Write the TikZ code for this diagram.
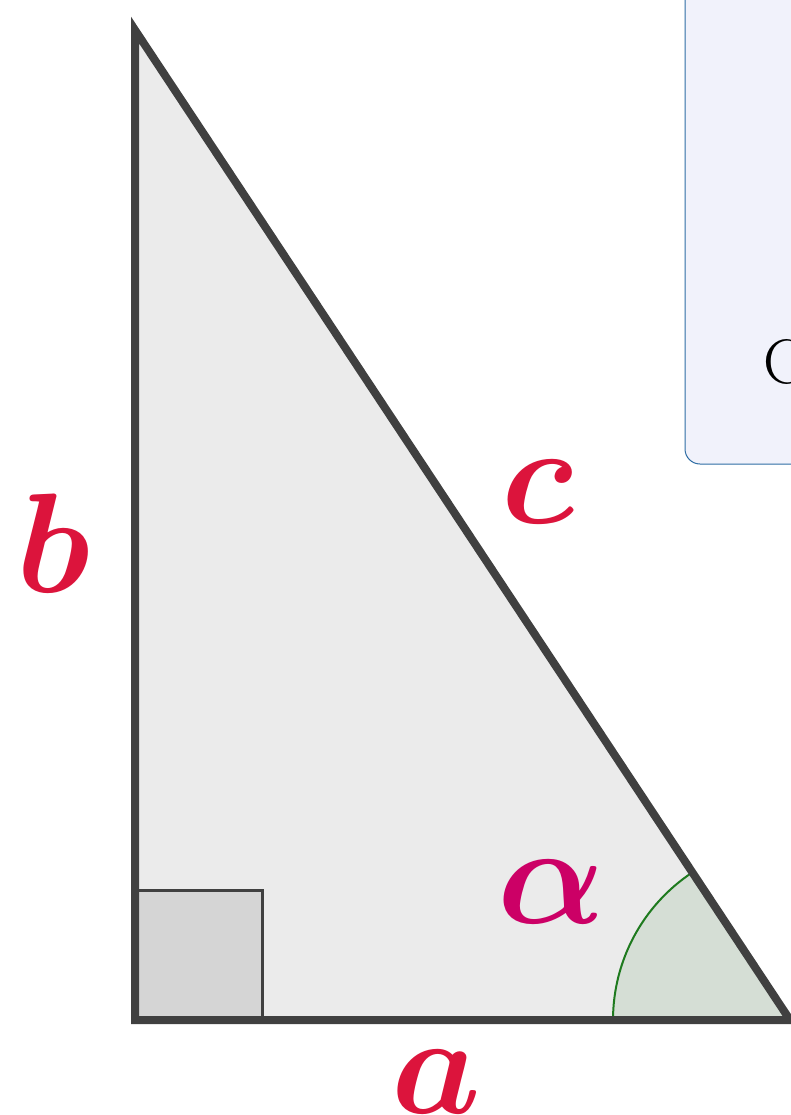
\documentclass[tikz,border=0pt]{standalone}
\usepackage{graphicx}
\usepackage{amsmath}
\begin{document}
\begin{tikzpicture}[x=1pt,y=-1pt,
  lbl/.style={inner sep=0pt, anchor=base},
  side/.style={draw=edge, line width=8pt, line join=miter}]
\definecolor{edge}{HTML}{404040}
\definecolor{tri}{HTML}{EBEBEB}
\definecolor{sq}{HTML}{D5D5D5}
\definecolor{arcfill}{HTML}{D5DED5}
\definecolor{arcline}{HTML}{1E7A1E}
\definecolor{crim}{HTML}{DC143C}
\definecolor{mag}{HTML}{CC0066}
\definecolor{boxfill}{HTML}{F1F2FB}
\definecolor{boxline}{HTML}{2E6DA4}
\newcommand{\biglbl}[1]{\scalebox{14.2}{$\boldsymbol{#1}$}}
\useasboundingbox (0,0) rectangle (791,1115);
% info box
\draw[fill=boxfill, draw=boxline, line width=1pt, rounded corners=15pt] (685,-30) rectangle (830,464);
\node[inner sep=0pt, anchor=base west, font=\fontsize{63}{63}\selectfont] (ctext) at (763,383) {C};
% triangle
\coordinate (A) at (135,30);
\coordinate (B) at (135,1020);
\coordinate (Cc) at (790,1020);
\fill[tri] (A) -- (B) -- (Cc) -- cycle;
% right angle square
\draw[fill=sq, draw=edge, line width=3pt] (B) rectangle (262,890);
% angle
\draw[fill=arcfill, draw=arcline, line width=2pt] (Cc) -- ++(-177,0) arc[start angle=180, end angle=236.5, radius=177] -- cycle;
\draw[side] (A) -- (B) -- (Cc) -- cycle;
% labels
\node[lbl, text=crim] (lb) at (53,592) {\biglbl{b}};
\node[lbl, text=crim] (lc) at (538,523) {\biglbl{c}};
\node[lbl, text=mag] (lal) at (551,923) {\biglbl{\alpha}};
\node[lbl, text=crim] (la) at (436,1113) {\biglbl{a}};
\end{tikzpicture}
\end{document}
